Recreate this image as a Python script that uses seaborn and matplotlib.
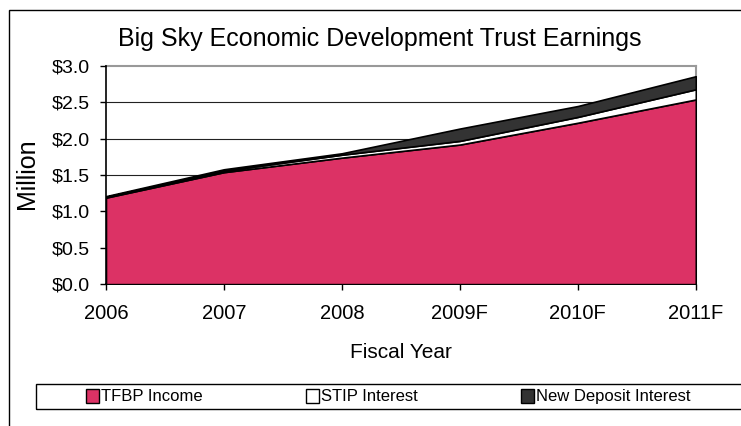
import numpy as np
import matplotlib.pyplot as plt
import seaborn as sns
from matplotlib.patches import Rectangle, Patch

# --- data (million $) ---
years = ["2006", "2007", "2008", "2009F", "2010F", "2011F"]
tfbp_income = [1.19, 1.54, 1.74, 1.92, 2.22, 2.54]
stip_interest = [0.01, 0.02, 0.04, 0.05, 0.08, 0.14]
new_deposit = [0.01, 0.02, 0.02, 0.17, 0.15, 0.18]
series_names = ["TFBP Income", "STIP Interest", "New Deposit Interest"]
y_ticks = [0.0, 0.5, 1.0, 1.5, 2.0, 2.5, 3.0]

sns.set_style("white", {"text.color": "black", "axes.labelcolor": "black",
                        "xtick.color": "black", "ytick.color": "black"})
plt.rcParams["font.family"] = ["Liberation Sans", "DejaVu Sans"]

colors = ["#DC3265", "white", "#333333"]

fig = plt.figure(figsize=(7.41, 4.26), dpi=100)
ax = fig.add_axes([0.143, 0.333, 0.796, 0.512])

x = np.arange(len(years))
ax.stackplot(x, tfbp_income, stip_interest, new_deposit,
             colors=colors, edgecolor="black", linewidth=1.2, zorder=3)

# gridlines
for yv in y_ticks[1:-1]:
    ax.axhline(yv, color="#222222", lw=0.8, zorder=1)

ax.set_xlim(0, len(years) - 1)
ax.set_ylim(0, 3.0)
ax.set_xticks(x)
ax.set_xticklabels(years, fontsize=14.5)
ax.set_yticks(y_ticks)
ax.set_yticklabels([f"${v:.1f}" for v in y_ticks], fontsize=14)
ax.tick_params(axis="both", direction="out", length=4.5, width=1, color="black",
               labelcolor="black", bottom=True, left=True)
ax.tick_params(axis="x", pad=10)
ax.tick_params(axis="y", pad=7)

for s in ["left", "bottom"]:
    ax.spines[s].set_color("black")
    ax.spines[s].set_linewidth(1.2)
for s in ["top", "right"]:
    ax.spines[s].set_color("#999999")
    ax.spines[s].set_linewidth(1.5)
ax.spines["top"].set_zorder(0)

ax.set_ylabel("Million", fontsize=18, color="black")
ax.yaxis.set_label_coords(-0.113, 0.505)
ax.set_xlabel("Fiscal Year", fontsize=15, color="black")
ax.xaxis.set_label_coords(0.5, -0.27)
fig.text(0.513, 0.908, "Big Sky Economic Development Trust Earnings",
         ha="center", va="center", fontsize=18, color="black")

# legend
handles = [Patch(facecolor=c, edgecolor="black", linewidth=1) for c in colors]
leg = fig.legend(handles, series_names, loc="center left", bbox_to_anchor=(0.116, 0.069),
                 ncol=3, frameon=False, fontsize=12, handlelength=0.8,
                 handleheight=0.9, handletextpad=0.1, columnspacing=6.2,
                 borderaxespad=0, borderpad=0, labelcolor="black")
fig.add_artist(Rectangle((0.049, 0.040), 1.0, 0.059, transform=fig.transFigure,
                         fill=False, edgecolor="black", lw=1, clip_on=False))
# outer chart frame
fig.add_artist(Rectangle((0.0115, -0.1), 1.1, 1.077, transform=fig.transFigure,
                         fill=False, edgecolor="black", lw=1, clip_on=False))

fig.savefig("out.png", dpi=100, facecolor="white")
